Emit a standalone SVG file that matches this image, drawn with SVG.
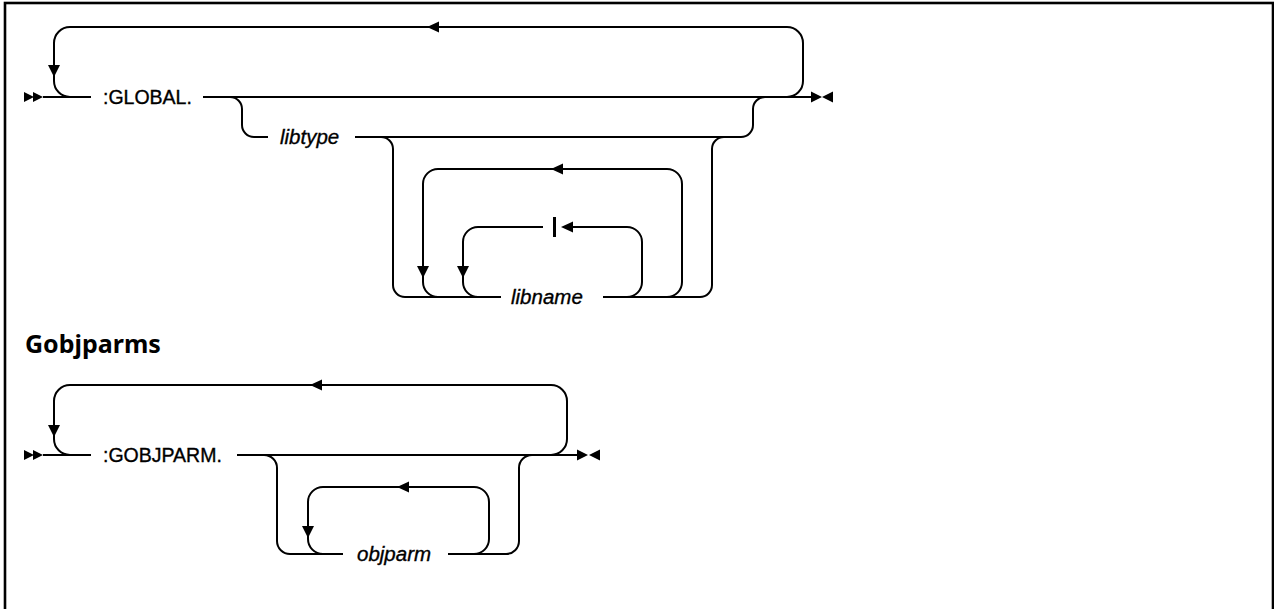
<svg xmlns="http://www.w3.org/2000/svg" width="1274" height="609" viewBox="0 0 1274 609">
<style>
.ln{fill:none;stroke:#000;stroke-width:2}
.ah{fill:#000;stroke:none}
.t{font-family:"Liberation Sans",Arial,sans-serif;font-size:19.5px;fill:#000;stroke:#000;stroke-width:0.35}
.v{font-family:"Liberation Sans",Arial,sans-serif;font-size:20.5px;font-style:italic;fill:#000;stroke:#000;stroke-width:0.35}
.h{font-family:"Noto Sans","DejaVu Sans",sans-serif;font-size:25px;font-weight:bold;fill:#000}
</style>
<rect x="0" y="0" width="1274" height="609" fill="#fff"/>
<rect x="5" y="3" width="1268" height="640" fill="none" stroke="#000" stroke-width="2.6"/>

<g id="connectors">
  <!-- Diagram 1 -->
  <path class="ln" d="M43,97 H91 M203,97 H811"/>
  <path class="ln" d="M787,97 A16,16 0 0 0 803,81 V43 A16,16 0 0 0 787,27 H70 A16,16 0 0 0 54,43 V81 A16,16 0 0 0 70,97"/>
  <path class="ln" d="M230,97 A12,12 0 0 1 242,109 V125 A12,12 0 0 0 254,137 H268 M355,137 H741 A12,12 0 0 0 753,125 V109 A12,12 0 0 1 765,97"/>
  <path class="ln" d="M381,137 A12,12 0 0 1 393,149 V285 A12,12 0 0 0 405,297 H501 M603,297 H700 A12,12 0 0 0 712,285 V149 A12,12 0 0 1 724,137"/>
  <path class="ln" d="M667,297 A15,15 0 0 0 682,282 V184 A15,15 0 0 0 667,169 H438 A15,15 0 0 0 423,184 V282 A15,15 0 0 0 438,297"/>
  <path class="ln" d="M627,297 A15,15 0 0 0 642,282 V242 A15,15 0 0 0 627,227 H573 M543,227 H478 A15,15 0 0 0 463,242 V282 A15,15 0 0 0 478,297"/>
  <line x1="554.5" y1="217" x2="554.5" y2="237" stroke="#000" stroke-width="3"/>
  <polygon class="ah" points="24,92 24,102 34,97"/>
  <polygon class="ah" points="33,92 33,102 43,97"/>
  <polygon class="ah" points="811,91.5 811,102.5 822,97"/>
  <polygon class="ah" points="833,91.5 833,102.5 822,97"/>
  <polygon class="ah" points="427,27 439,21.5 439,32.5"/>
  <polygon class="ah" points="54,77 48,65 60,65"/>
  <polygon class="ah" points="551,169 563,163.5 563,174.5"/>
  <polygon class="ah" points="561,227 573,221.5 573,232.5"/>
  <polygon class="ah" points="423,278 417,266 429,266"/>
  <polygon class="ah" points="463,278 457,266 469,266"/>

  <!-- Diagram 2 -->
  <path class="ln" d="M43,455 H91 M237,455 H577"/>
  <path class="ln" d="M551,455 A16,16 0 0 0 567,439 V401 A16,16 0 0 0 551,385 H70 A16,16 0 0 0 54,401 V439 A16,16 0 0 0 70,455"/>
  <path class="ln" d="M264,455 A13,13 0 0 1 277,468 V541 A13,13 0 0 0 290,554 H343 M448,554 H506 A13,13 0 0 0 519,541 V468 A13,13 0 0 1 532,455"/>
  <path class="ln" d="M474,554 A15,15 0 0 0 489,539 V502 A15,15 0 0 0 474,487 H323 A15,15 0 0 0 308,502 V539 A15,15 0 0 0 323,554"/>
  <polygon class="ah" points="24,450 24,460 34,455"/>
  <polygon class="ah" points="33,450 33,460 43,455"/>
  <polygon class="ah" points="577,449.5 577,460.5 588,455"/>
  <polygon class="ah" points="600,449.5 600,460.5 589,455"/>
  <polygon class="ah" points="310,385 322,379.5 322,390.5"/>
  <polygon class="ah" points="54,437 48,425 60,425"/>
  <polygon class="ah" points="397,487 409,481.5 409,492.5"/>
  <polygon class="ah" points="308,538 302,526 314,526"/>
</g>

<g id="node-global"><text class="t" x="103" y="104">:GLOBAL.</text></g>
<g id="node-libtype"><text class="v" x="280" y="144">libtype</text></g>
<g id="node-libname"><text class="v" x="511" y="304">libname</text></g>
<g id="node-title"><text class="h" x="25" y="353">Gobjparms</text></g>
<g id="node-gobjparm"><text class="t" x="103" y="462">:GOBJPARM.</text></g>
<g id="node-objparm"><text class="v" x="357" y="561">objparm</text></g>
</svg>
